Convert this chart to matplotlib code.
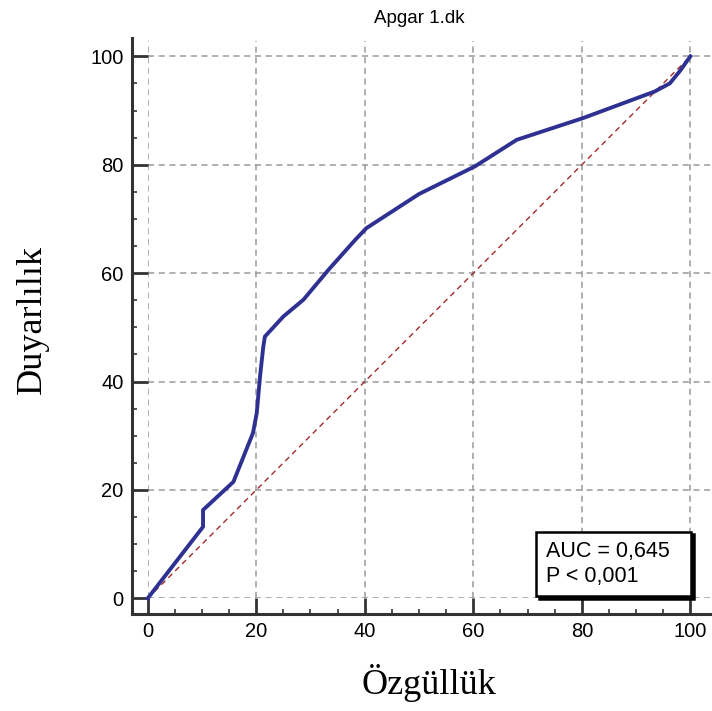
import matplotlib.pyplot as plt
from matplotlib.lines import Line2D
from matplotlib.ticker import MultipleLocator

# ROC curve points (1 - specificity, sensitivity), in %
fpr = [0, 10.2, 10.2, 15.8, 19.4, 20.1, 20.7, 21.3, 21.6, 25.0, 28.7, 33.3,
       38.2, 40.3, 50.0, 60.3, 68.0, 80.2, 93.4, 96.2, 98.0, 100]
tpr = [0, 13.2, 16.3, 21.5, 30.5, 34.2, 40.9, 46.4, 48.3, 52.0, 55.1, 60.6,
       66.1, 68.3, 74.6, 79.7, 84.6, 88.6, 93.5, 95.0, 97.2, 100]
ref_line = [0, 100]
ticks = [0, 20, 40, 60, 80, 100]
title = "Apgar 1.dk"
stats = ["AUC = 0,645", "P < 0,001"]

plt.rcParams['font.family'] = ['Liberation Sans', 'DejaVu Sans']

fig = plt.figure(figsize=(7.12, 7.11), dpi=100)
ax = fig.add_axes([0.2074, 0.1584, 0.7912, 0.7837])
ax.set_xlim(0, 103.8)
ax.set_ylim(0, 102.8)

# grid
ax.set_xticks(ticks)
ax.set_yticks(ticks)
ax.grid(True, color='#9a9a9a', linestyle=(0, (4, 3)), linewidth=1.1)
ax.set_axisbelow(True)

# reference diagonal and ROC curve
ax.plot(ref_line, ref_line, color='#a52a2a', linestyle=(0, (4, 3)), linewidth=1.0)
ax.plot(fpr, tpr, color='#2e3192', linewidth=2.8, clip_on=False,
        solid_joinstyle='round')

# detached spines like the original software
for s in ['top', 'right']:
    ax.spines[s].set_visible(False)
for s in ['left', 'bottom']:
    ax.spines[s].set_position(('outward', 11.3))
    ax.spines[s].set_linewidth(2.2)
    ax.spines[s].set_color('#333333')
ax.spines['left'].set_bounds(-2.9, 103.4)
ax.spines['bottom'].set_bounds(-2.9, 103.8)

ax.xaxis.set_minor_locator(MultipleLocator(5))
ax.yaxis.set_minor_locator(MultipleLocator(5))
ax.tick_params(which='major', direction='in', length=11.3, width=2.0,
               color='#333333', labelsize=14.5, pad=6)
ax.tick_params(which='minor', direction='in', length=3.6, width=1.2,
               color='#333333')

ax.text(50, 1.041, title, transform=ax.get_xaxis_transform(),
        ha='center', va='center', fontsize=13.5)

ax.set_xlabel("Özgüllük", family=['Liberation Serif', 'DejaVu Serif'],
              fontsize=26, labelpad=16)
ax.set_ylabel("Duyarlılık", family=['Liberation Serif', 'DejaVu Serif'],
              fontsize=26, labelpad=30)

handles = [Line2D([], [], linestyle='none') for _ in stats]
leg = ax.legend(handles, stats, loc='lower right',
                bbox_to_anchor=(100.2, 0.4), bbox_transform=ax.transData,
                borderaxespad=0, handlelength=0, handletextpad=0,
                fancybox=False, framealpha=1, fontsize=15.5,
                shadow={'color': 'black', 'alpha': 1}, borderpad=0.45,
                labelspacing=0.15)
leg.get_frame().set_edgecolor('black')
leg.get_frame().set_linewidth(1.8)
# wider box on the right as in the original
for t in leg.get_texts():
    t.set_text(t.get_text() + "  ")

fig.savefig("out.png", dpi=100)
